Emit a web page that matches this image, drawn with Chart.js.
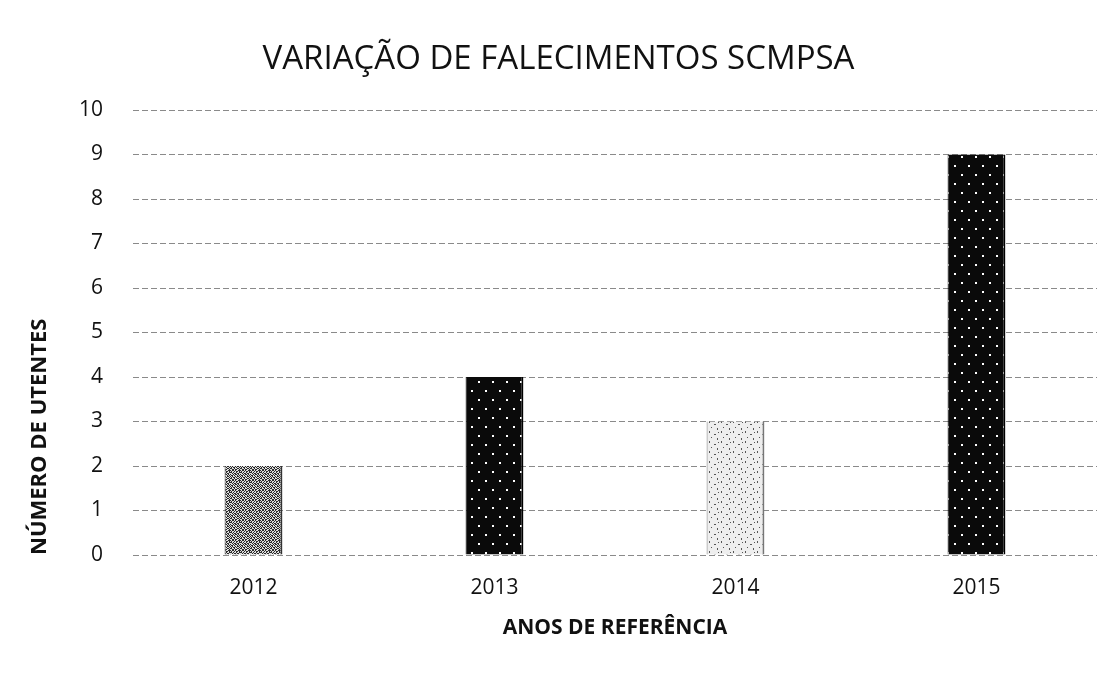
<!doctype html>
<html lang="pt">
<head>
<meta charset="utf-8">
<title>Variação de falecimentos SCMPSA</title>
<style>
  * { margin: 0; padding: 0; }
  body { background: #fff; }
  .chartBox { width: 1117px; height: 675px; }
</style>
</head>
<body>
<div class="chartBox"><canvas id="myChart"></canvas></div>
<script src="https://cdn.jsdelivr.net/npm/chart.js"></script>
<script>
const years = ['2012', '2013', '2014', '2015']
const deaths = [2, 4, 3, 9]
const yTicks = [0, 1, 2, 3, 4, 5, 6, 7, 8, 9, 10]

const FONT = "'Open Sans', 'Noto Sans', sans-serif"

// small tile patterns imitating the scanned fills
function makePattern(w, h, draw) {
  const c = document.createElement('canvas')
  c.width = w
  c.height = h
  const ctx = c.getContext('2d')
  draw(ctx)
  return ctx.createPattern(c, 'repeat')
}

// grey speckle: fixed bitmap
const speckle = [
  '1011010011', '0100101101', '1101001001', '0010110110', '1001011010',
  '0110100101', '1010010110', '0101101001', '1100100110', '0011011001'
]
const greyFill = makePattern(10, 10, ctx => {
  ctx.fillStyle = '#ddd'
  ctx.fillRect(0, 0, 10, 10)
  ctx.fillStyle = '#2a2a2a'
  speckle.forEach((row, y) => {
    for (let x = 0; x < 10; x++) if (row[x] === '1') ctx.fillRect(x, y, 1, 1)
  })
})

const dotFill = makePattern(14, 18, ctx => {
  ctx.fillStyle = '#0a0a0a'
  ctx.fillRect(0, 0, 14, 18)
  ctx.fillStyle = '#fff'
  ctx.fillRect(2, 3, 2, 2)
  ctx.fillRect(9, 12, 2, 2)
})

const lightFill = makePattern(12, 10, ctx => {
  ctx.fillStyle = '#eeeeee'
  ctx.fillRect(0, 0, 12, 10)
  ctx.fillStyle = '#555'
  ctx.fillRect(1, 1, 1, 2)
  ctx.fillRect(6, 4, 2, 1)
  ctx.fillRect(3, 7, 1, 1)
  ctx.fillRect(9, 8, 1, 2)
  ctx.fillRect(10, 2, 1, 1)
})

const data = {
  labels: years,
  datasets: [{
    data: deaths,
    backgroundColor: [greyFill, dotFill, lightFill, dotFill],
    borderColor: ['#333', '#000', '#777', '#000'],
    borderWidth: { left: 1, right: 2, top: 0, bottom: 0 },
    barPercentage: 0.24,
    categoryPercentage: 1
  }]
}

const config = {
  type: 'bar',
  data: data,
  options: {
    responsive: false,
    animation: false,
    layout: { padding: { left: 20, right: 20, top: 0, bottom: 0 } },
    plugins: {
      legend: { display: false },
      tooltip: { enabled: false },
      title: {
        display: true,
        text: 'VARIAÇÃO DE FALECIMENTOS SCMPSA',
        color: '#111',
        font: { family: FONT, size: 33, weight: 'normal', lineHeight: 1.2 },
        padding: { top: 40, bottom: 30.4 }
      }
    },
    scales: {
      y: {
        min: 0,
        max: 10,
        afterBuildTicks: axis => { axis.ticks = yTicks.map(v => ({ value: v })) },
        grid: { color: '#8a8a8a', lineWidth: 1, drawTicks: false },
        border: { display: false, dash: [6, 3] },
        ticks: {
          color: '#111',
          padding: 30,
          font: { family: FONT, size: 21 }
        },
        title: {
          display: true,
          text: 'NÚMERO DE UTENTES',
          align: 'start',
          color: '#111',
          font: { family: FONT, size: 22, weight: 'bold', lineHeight: 1.2 },
          padding: { top: 7, bottom: 0 }
        },
        afterFit: axis => { axis.width = 113 }
      },
      x: {
        grid: { display: false },
        border: { display: false },
        ticks: {
          color: '#111',
          padding: 12,
          font: { family: FONT, size: 21 }
        },
        title: {
          display: true,
          text: 'ANOS DE REFERÊNCIA',
          color: '#111',
          font: { family: FONT, size: 21, weight: 'bold', lineHeight: 1.2 },
          padding: { top: 0, bottom: 34 }
        },
        afterFit: axis => { axis.height = 120 }
      }
    }
  }
}

const canvas = document.getElementById('myChart')
canvas.width = 1117
canvas.height = 675
const myChart = new Chart(canvas, config)
</script>
</body>
</html>
